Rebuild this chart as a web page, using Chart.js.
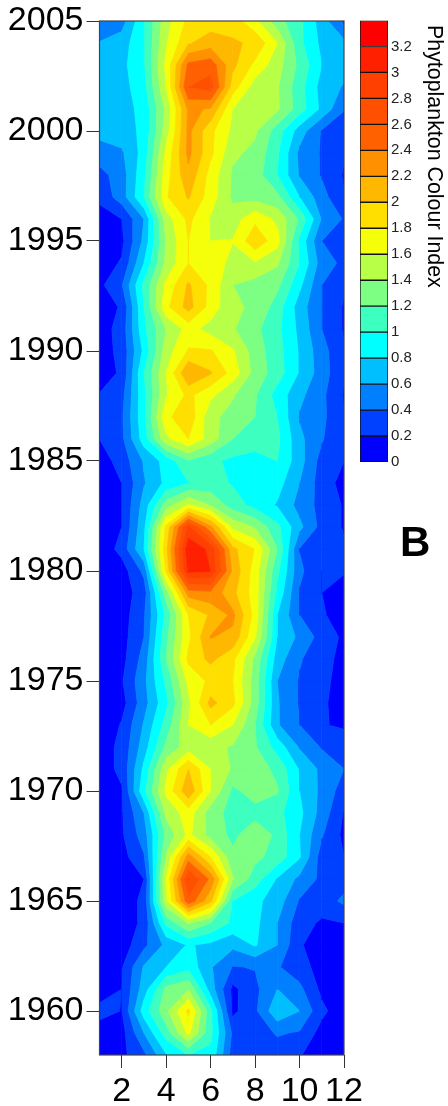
<!DOCTYPE html>
<html><head><meta charset="utf-8">
<script src="https://cdn.jsdelivr.net/npm/chart.js@4"></script>
<style>
html,body{margin:0;padding:0;background:#fff;width:448px;height:1106px;overflow:hidden}
canvas{position:absolute;left:0;top:0}
#bar{left:350px}
#letter{position:absolute;left:400px;top:518px;font:bold 42px "Liberation Sans",Arial,sans-serif;line-height:48px;color:#000}
#cbtitle{position:absolute;left:447px;top:25px;font:21.4px "Liberation Sans",Arial,sans-serif;line-height:24px;color:#000;white-space:nowrap;transform-origin:0 0;transform:rotate(90deg)}
</style></head><body>
<canvas id="main" width="448" height="1106"></canvas>
<canvas id="bar" width="98" height="500"></canvas>
<div id="cbtitle">Phytoplankton Colour Index</div>
<div id="letter">B</div>
<script>
const months=[1,2,3,4,5,6,7,8,9,10,11,12];
const monthTicks=[2,4,6,8,10,12];
const yearTicks=[1960,1965,1970,1975,1980,1985,1990,1995,2000,2005];
const levels=[0,0.2,0.4,0.6,0.8,1,1.2,1.4,1.6,1.8,2,2.2,2.4,2.6,2.8,3,3.2,3.4];
const barTicks=[0,0.2,0.4,0.6,0.8,1,1.2,1.4,1.6,1.8,2,2.2,2.4,2.6,2.8,3,3.2];
const bandColors=['#0000ff','#0040ff','#0080ff','#00bfff','#00ffff','#3cffc0','#7cff83','#b8ff47','#f5ff0a','#ffdf00','#ffb800','#ff9000','#ff6000','#ff5000','#ff4000','#ff2000','#ff0000'];
const y2005=[.45,.51,.98,1.52,1.85,1.9,1.9,1.65,1.28,1.05,.7,.35];
const y2004=[.61,.7,.98,1.58,1.98,2.1,2.03,1.96,1.6,1.05,.75,.65];
const y2003=[.65,.74,.98,1.65,2.45,2.52,2.05,1.75,1.48,1.15,.8,.68];
const y2002=[.63,.72,.93,1.6,2.6,2.7,1.9,1.5,1.42,1.08,.72,.58];
const y2001=[.62,.72,.86,1.45,2.24,2.18,1.6,1.5,1.43,1.1,.75,.41];
const y2000=[.67,.7,.85,1.5,2.25,1.85,1.55,1.43,1.1,.7,.38,.3];
const y1999=[.5,.57,.88,1.65,2.25,1.85,1.44,1.35,1.03,.55,.38,.22];
const y1998=[.33,.5,.95,1.72,2.15,1.72,1.37,1.3,1.0,.58,.38,.18];
const y1997=[.25,.5,1.0,1.78,2.02,1.7,1.36,1.32,1.25,.8,.48,.21];
const y1996=[.1,.2,.6,1.5,1.85,1.58,1.5,1.75,1.55,1.17,.58,.38];
const y1995=[.08,.15,.65,1.42,1.8,1.6,1.61,1.95,1.68,.95,.4,.3];
const y1994=[.1,.22,.8,1.45,1.8,1.75,1.52,1.58,1.43,1.0,.5,.35];
const y1993=[.15,.38,1.05,1.65,2.03,1.75,1.4,1.32,1.25,.85,.4,.22];
const y1992=[.1,.22,1.0,1.75,2.08,1.72,1.42,1.38,1.1,.7,.4,.18];
const y1991=[.1,.28,.95,1.4,1.68,1.52,1.42,1.25,1.05,.75,.4,.18];
const y1990=[.1,.26,.85,1.5,1.82,1.82,1.62,1.3,1.08,.78,.48,.22];
const y1989=[.1,.23,1.0,1.6,2.2,2.02,1.72,1.32,1.1,.78,.5,.22];
const y1988=[.21,.33,.95,1.58,1.85,1.65,1.42,1.22,.92,.65,.45,.18];
const y1987=[.27,.37,.95,1.75,1.95,1.45,1.33,1.2,1.0,.58,.45,.21];
const y1986=[.2,.35,.9,1.55,1.8,1.5,1.2,1.1,1.05,.65,.42,.2];
const y1985=[.1,.28,.62,.88,1.18,1.05,.95,.92,1.0,.68,.32,.2];
const y1984=[.08,.2,.58,.85,.99,1.08,.98,.9,.88,.6,.3,.13];
const y1983=[.08,.2,.68,1.3,1.62,1.38,1.1,.93,.78,.53,.33,.18];
const y1982=[.07,.2,.75,1.85,2.85,2.25,1.55,1.38,1.05,.65,.33,.18];
const y1981=[.05,.27,.8,1.95,3.15,2.95,2.05,1.79,1.2,.39,.28,.23];
const y1980=[.05,.1,.45,1.85,3.05,3.0,2.15,1.7,1.05,.45,.2,.22];
const y1979=[.05,.1,.3,1.3,2.3,2.35,2.05,1.7,.95,.38,.2,.1];
const y1978=[.04,.1,.38,1.05,1.8,2.03,2.25,1.72,.8,.4,.22,.12];
const y1977=[.04,.12,.4,1.15,1.75,2.21,2.15,1.62,.8,.55,.32,.16];
const y1976=[.04,.13,.48,1.2,1.85,2.05,1.85,1.35,.7,.42,.27,.14];
const y1975=[.04,.18,.55,1.05,1.65,1.85,1.8,1.3,.6,.38,.24,.14];
const y1974=[.03,.12,.52,.95,1.55,2.06,1.85,1.3,.62,.38,.23,.12];
const y1973=[.02,.22,.62,1.08,1.6,1.8,1.6,1.2,.62,.4,.21,.18];
const y1972=[.1,.25,.7,1.25,1.5,1.45,1.38,1.22,.92,.58,.38,.28];
const y1971=[.1,.25,.85,1.55,2.0,1.6,1.37,1.3,1.15,.78,.55,.4];
const y1970=[.08,.18,.95,1.65,2.15,1.6,1.15,1.3,1.22,.8,.55,.3];
const y1969=[.06,.18,.6,1.45,1.7,1.3,1.12,1.12,1.06,.85,.52,.18];
const y1968=[.05,.17,.5,1.25,1.65,1.32,1.15,1.35,1.15,.8,.42,.15];
const y1967=[.05,.12,.38,1.42,2.3,1.8,1.25,1.25,1.12,.82,.3,.2];
const y1966=[.03,.08,.2,1.62,2.82,2.35,1.42,1.1,.78,.55,.35,.32];
const y1965=[.03,.08,.25,1.55,2.55,2.05,1.0,.85,.7,.38,.3,.44];
const y1964=[.02,.07,.25,1.05,1.42,1.2,.95,.85,.6,.28,.17,.2];
const y1963=[.02,.09,.35,.65,.82,.75,.65,.82,.6,.22,.1,.08];
const y1962=[.02,.18,.62,.8,.93,.62,.39,.41,.42,.28,.12,.06];
const y1961=[.03,.2,.7,1.25,1.38,.7,.15,.35,.6,.45,.15,.06];
const y1960=[.3,.19,.9,1.35,1.85,1.05,.15,.36,.75,.6,.25,.06];
const y1959=[.05,.12,.6,1.1,1.65,1.05,.36,.3,.42,.38,.12,.04];
const y1958=[.02,.15,.35,.78,1.0,.95,.3,.3,.3,.21,.12,.05];
const years=[1958,1959,1960,1961,1962,1963,1964,1965,1966,1967,1968,1969,1970,1971,1972,1973,1974,1975,1976,1977,1978,1979,1980,1981,1982,1983,1984,1985,1986,1987,1988,1989,1990,1991,1992,1993,1994,1995,1996,1997,1998,1999,2000,2001,2002,2003,2004,2005];
const grid=[y1958,y1959,y1960,y1961,y1962,y1963,y1964,y1965,y1966,y1967,y1968,y1969,y1970,y1971,y1972,y1973,y1974,y1975,y1976,y1977,y1978,y1979,y1980,y1981,y1982,y1983,y1984,y1985,y1986,y1987,y1988,y1989,y1990,y1991,y1992,y1993,y1994,y1995,y1996,y1997,y1998,y1999,y2000,y2001,y2002,y2003,y2004,y2005];

const FONT='"Liberation Sans",Arial,sans-serif';
Chart.defaults.font.family=FONT;
Chart.defaults.animation=false;

function clip(poly,level,keepAbove){
  const out=[];
  for(let i=0;i<poly.length;i++){
    const a=poly[i],b=poly[(i+1)%poly.length];
    const ina=keepAbove?a.v>=level:a.v<=level;
    const inb=keepAbove?b.v>=level:b.v<=level;
    if(ina)out.push(a);
    if(ina!==inb){
      const t=(level-a.v)/(b.v-a.v);
      out.push({x:a.x+t*(b.x-a.x),y:a.y+t*(b.y-a.y),v:level});
    }
  }
  return out;
}
const contourPlugin={
  id:'contour',
  beforeDatasetsDraw(chart){
    const {ctx,chartArea:ca,scales:{x,y}}=chart;
    ctx.save();
    ctx.beginPath();ctx.rect(ca.left,ca.top,ca.right-ca.left,ca.bottom-ca.top);ctx.clip();
    ctx.lineWidth=0.7;ctx.lineJoin='round';
    for(let j=0;j<years.length-1;j++){
      for(let i=0;i<months.length-1;i++){
        const c=(ii,jj)=>({x:x.getPixelForValue(months[ii]),y:y.getPixelForValue(years[jj]),v:grid[jj][ii]});
        const quad=[c(i,j),c(i+1,j),c(i+1,j+1),c(i,j+1)];
        for(let k=0;k<bandColors.length;k++){
          let p=clip(quad,levels[k],true);
          if(p.length)p=clip(p,levels[k+1],false);
          if(p.length<3)continue;
          ctx.beginPath();
          p.forEach((q,n)=>n?ctx.lineTo(q.x,q.y):ctx.moveTo(q.x,q.y));
          ctx.closePath();
          ctx.fillStyle=bandColors[k];ctx.strokeStyle=bandColors[k];
          ctx.fill();ctx.stroke();
        }
      }
    }
    ctx.restore();
  },
  afterDatasetsDraw(chart){
    const {ctx,chartArea:ca}=chart;
    ctx.save();ctx.strokeStyle='#444';ctx.lineWidth=1.2;
    ctx.strokeRect(ca.left,ca.top,ca.right-ca.left,ca.bottom-ca.top);
    ctx.restore();
  }
};
const nodes=[];
years.forEach((yr,j)=>months.forEach((m,i)=>nodes.push({x:m,y:yr,v:grid[j][i]})));
new Chart(document.getElementById('main'),{
  type:'scatter',
  data:{datasets:[{label:'Phytoplankton Colour Index',data:nodes,pointRadius:0,showLine:false}]},
  options:{
    responsive:false,
    layout:{padding:{top:21,right:104,bottom:0,left:0}},
    plugins:{legend:{display:false},tooltip:{enabled:false}},
    scales:{
      x:{type:'linear',min:1,max:12,
        afterBuildTicks:s=>{s.ticks=monthTicks.map(v=>({value:v}))},
        afterFit:s=>{s.height=51;s.paddingLeft=0;s.paddingRight=0},
        grid:{drawOnChartArea:false,drawTicks:true,tickLength:13,color:'#333',lineWidth:1},
        border:{display:false},
        ticks:{font:{size:34},color:'#000',padding:3,maxRotation:0,autoSkip:false,callback:v=>String(v)}},
      y:{type:'linear',min:1958,max:2005,
        afterBuildTicks:s=>{s.ticks=yearTicks.map(v=>({value:v}))},
        afterFit:s=>{s.width=99.5;s.paddingTop=0;s.paddingBottom=0},
        grid:{drawOnChartArea:false,drawTicks:true,tickLength:13,color:'#333',lineWidth:1},
        border:{display:false},
        ticks:{font:{size:34},color:'#000',padding:3,autoSkip:false,callback:v=>String(v)}}
    }
  },
  plugins:[contourPlugin]
});
new Chart(document.getElementById('bar'),{
  type:'bar',
  data:{labels:['Index'],datasets:bandColors.map((col,k)=>({
    data:[[levels[k],levels[k+1]]],backgroundColor:col,borderColor:'#111',borderWidth:1,borderSkipped:false,
    barPercentage:1,categoryPercentage:1}))},
  options:{
    responsive:false,
    layout:{padding:{top:20.5,left:10,right:0,bottom:38}},
    plugins:{legend:{display:false},tooltip:{enabled:false}},
    scales:{
      x:{stacked:true,display:false},
      y:{type:'linear',position:'right',min:0,max:3.4,
        afterBuildTicks:s=>{s.ticks=barTicks.map(v=>({value:v}))},
        afterFit:s=>{s.width=60},
        grid:{display:false,drawTicks:false},
        border:{display:false},
        ticks:{font:{size:15},color:'#222',padding:3,autoSkip:false,callback:v=>String(v)}}
    }
  }
});
</script>
</body></html>
